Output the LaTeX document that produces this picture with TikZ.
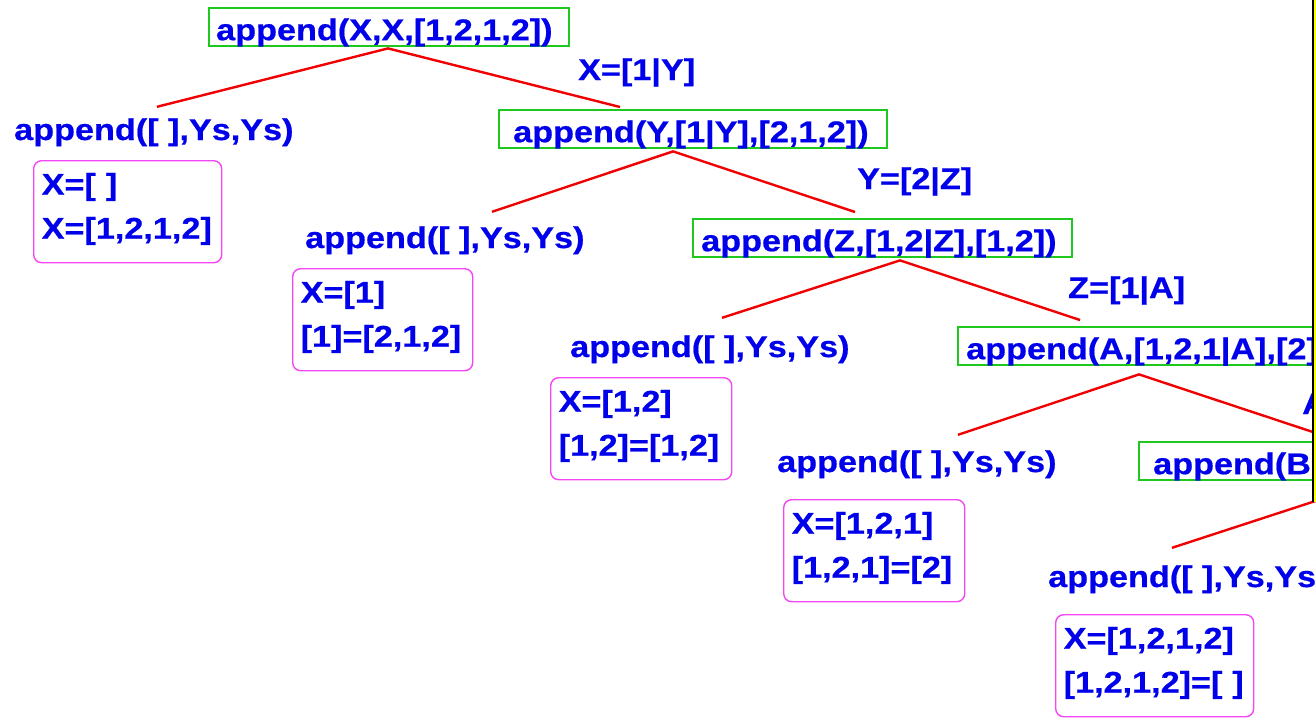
\documentclass[tikz,border=0pt]{standalone}
\usepackage{fontspec}
\newfontfamily\diagfont{Liberation Sans}[FakeStretch=1.14,FakeBold=0.6]
\usetikzlibrary{calc}
\definecolor{tblue}{RGB}{0,0,235}
\definecolor{gboxc}{RGB}{30,200,30}
\definecolor{mboxc}{RGB}{245,70,245}
\definecolor{edgec}{RGB}{240,0,0}
\definecolor{stripec}{RGB}{255,255,0}
\begin{document}
\begin{tikzpicture}[x=1pt,y=-1pt,
  every node/.style={font=\diagfont\bfseries\fontsize{30}{44}\selectfont, text=tblue},
  gbox/.style={draw=gboxc, line width=2.4pt, anchor=north west, inner xsep=#1, inner ysep=2pt,
    text height=30pt, text depth=4pt, align=left},
  gbox/.default=8pt,
  mbox/.style={draw=mboxc, line width=1.4pt, rounded corners=8pt, anchor=north west,
    inner xsep=8pt, inner ysep=4pt, text height=30pt, text depth=64pt, align=left},
  leaf/.style={anchor=base west, inner sep=0pt, text height=33pt, text depth=7pt},
  lab/.style={anchor=base west, inner sep=0pt},
  conn/.style={draw=edgec, line width=2.4pt}
]
\useasboundingbox (0,0) rectangle (1316,718);
\begin{scope}
\clip (0,0) -- (1312,0) -- (1312,502) -- (1316,502) -- (1316,718) -- (0,718) -- cycle;
% goal boxes
\node[gbox=7pt, text width=346pt] (g0) at (208,7) {append(X,X,[1,2,1,2])};
\node[gbox=14pt, text width=360pt] (g1) at (498,109) {append(Y,[1|Y],[2,1,2])};
\node[gbox=8pt, text width=363pt] (g2) at (692,218) {append(Z,[1,2|Z],[1,2])};
\node[gbox=8pt, text width=400pt] (g3) at (957,326) {append(A,[1,2,1|A],[2])};
\node[gbox=14pt, text width=420pt] (g4) at (1138,441) {append(B,[1,2,1,2|B],[ ])};
% bindings
\node[lab] (b1) at (578,80) {X=[1|Y]};
\node[lab] (b2) at (857,189) {Y=[2|Z]};
\node[lab] (b3) at (1068,298) {Z=[1|A]};
\node[lab] (b4) at (1302,414) {A=[2|B]};
% leaves
\node[leaf] (l1) at (14,140) {append([ ],Ys,Ys)};
\node[leaf] (l2) at (305,248) {append([ ],Ys,Ys)};
\node[leaf] (l3) at (570,357) {append([ ],Ys,Ys)};
\node[leaf] (l4) at (777,472) {append([ ],Ys,Ys)};
\node[leaf] (l5) at (1048,587) {append([ ],Ys,Ys)};
% answers
\node[mbox, text width=172pt] (m1) at (33,160) {X=[ ]\\X=[1,2,1,2]};
\node[mbox, text width=164pt] (m2) at (292,268) {X=[1]\\{}[1]=[2,1,2]};
\node[mbox, text width=165pt] (m3) at (550,377) {X=[1,2]\\{}[1,2]=[1,2]};
\node[mbox, text width=165pt] (m4) at (783,499) {X=[1,2,1]\\{}[1,2,1]=[2]};
\node[mbox, text width=182pt] (m5) at (1055,614) {X=[1,2,1,2]\\{}[1,2,1,2]=[ ]};
% connectors
\draw[conn] ($(l1.north west)+(143,0)$) -- ($(g0.south west)+(180,1)$) -- ($(g1.north west)+(122,-2)$);
\draw[conn] ($(l2.north west)+(187,-3)$) -- ($(g1.south west)+(175,2)$) -- ($(g2.north west)+(163,-6)$);
\draw[conn] ($(l3.north west)+(152,-6)$) -- ($(g2.south west)+(208,2)$) -- ($(g3.north west)+(123,-6)$);
\draw[conn] ($(l4.north west)+(181,-4)$) -- ($(g3.south west)+(182,8)$) -- ($(g4.north west)+(202,0)$);
\draw[conn] ($(l5.north west)+(124,-6)$) -- ($(g4.south west)+(213,8)$);
\end{scope}
% frame edge
\fill[stripec] (1314.3,0) rectangle (1316,502);
\draw[line width=2pt] (1313.3,0) -- (1313.3,502);
\end{tikzpicture}
\end{document}
